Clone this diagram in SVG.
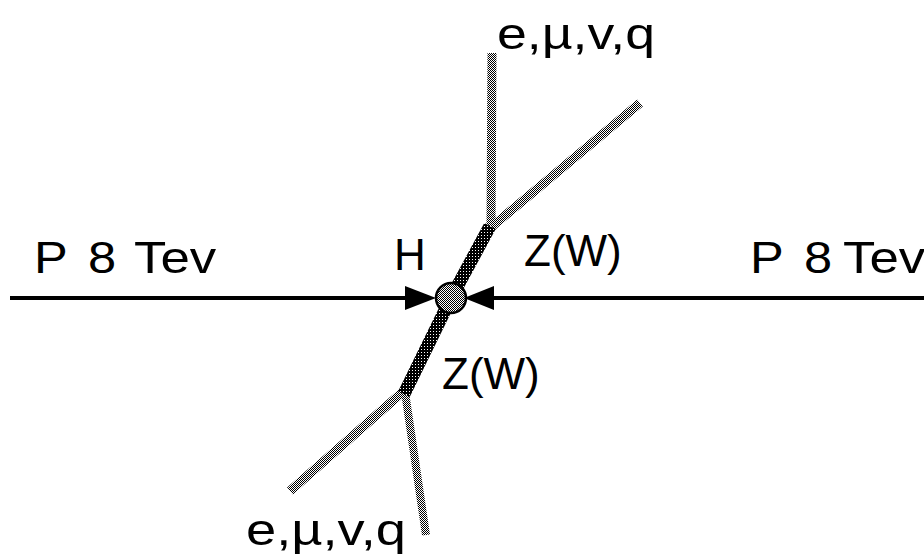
<svg xmlns="http://www.w3.org/2000/svg" width="924" height="559" viewBox="0 0 924 559">
  <defs>
    <pattern id="dither" width="2" height="2" patternUnits="userSpaceOnUse">
      <rect width="2" height="2" fill="#ffffff"/>
      <rect width="1" height="1" fill="#000000"/>
      <rect x="1" y="1" width="1" height="1" fill="#000000"/>
    </pattern>
    <pattern id="darkdither" width="3" height="3" patternUnits="userSpaceOnUse">
      <rect width="3" height="3" fill="#000000"/>
      <rect x="1" y="1" width="1" height="1" fill="#ffffff"/>
    </pattern>
    <style>
      .lbl { font-family: "Liberation Sans", Arial, sans-serif; fill: #000; font-size: 44px; }
      .grey { fill: none; stroke: url(#dither); stroke-width: 9; }
      .beam { fill: none; stroke: #000; stroke-width: 4; }
      .boson { fill: none; stroke: url(#darkdither); stroke-width: 13; }
    </style>
  </defs>
  <rect width="924" height="559" fill="#ffffff"/>

  <g id="connectors">
    <line id="beam-left" class="beam" x1="10" y1="298" x2="420" y2="298"/>
    <line id="beam-right" class="beam" x1="480" y1="298" x2="924" y2="298"/>
    <polygon id="arrow-left" points="405,286 436,298 405,310" fill="#000"/>
    <polygon id="arrow-right" points="494,286 464,298 494,310" fill="#000"/>
    <line id="lep-up-vert" class="grey" x1="492" y1="53" x2="491" y2="226"/>
    <line id="lep-up-diag" class="grey" x1="489" y1="229" x2="640" y2="103"/>
    <line id="lep-down-diag" class="grey" x1="405" y1="390" x2="290" y2="491"/>
    <line id="lep-down-vert" class="grey" style="stroke-width:8" x1="405" y1="392" x2="426" y2="535"/>
    <line id="z-up" class="boson" x1="490" y1="226" x2="451" y2="298"/>
    <line id="z-down" class="boson" x1="451" y1="298" x2="404" y2="394"/>
  </g>

  <g id="node-H">
    <circle cx="451" cy="298" r="15" fill="url(#dither)" stroke="#000" stroke-width="2.5"/>
  </g>

  <g id="labels">
    <text class="lbl" transform="translate(34,273) scale(1.15,1)">P</text>
    <text class="lbl" transform="translate(88,273) scale(1.15,1)">8</text>
    <text class="lbl" transform="translate(134,273) scale(1.2,1)">Tev</text>
    <text class="lbl" transform="translate(750,273) scale(1.15,1)">P</text>
    <text class="lbl" transform="translate(804,273) scale(1.15,1)">8</text>
    <text class="lbl" transform="translate(843,273) scale(1.2,1)">Tev</text>
    <text class="lbl" x="394" y="270">H</text>
    <text class="lbl" x="524" y="266">Z(W)</text>
    <text class="lbl" x="442" y="389">Z(W)</text>
    <text class="lbl" x="497" y="49" textLength="158" lengthAdjust="spacingAndGlyphs">e,µ,v,q</text>
    <text class="lbl" x="246" y="545" textLength="160" lengthAdjust="spacingAndGlyphs">e,µ,v,q</text>
  </g>
</svg>
